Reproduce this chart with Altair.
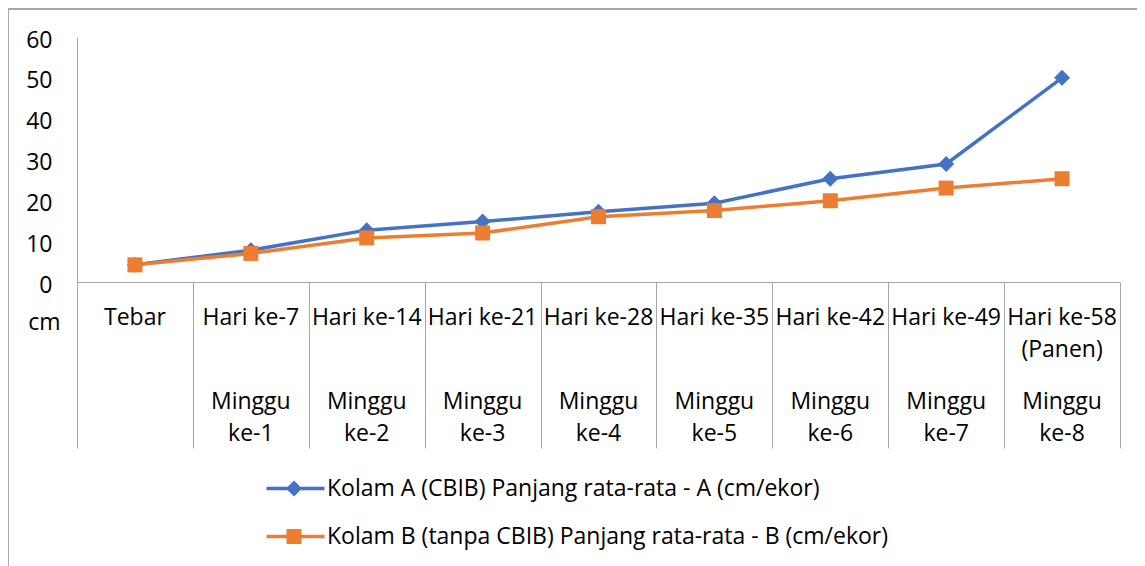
import json
import altair as alt
import pandas as pd

categories = ["Tebar", "Hari ke-7", "Hari ke-14", "Hari ke-21", "Hari ke-28",
              "Hari ke-35", "Hari ke-42", "Hari ke-49", "Hari ke-58\n(Panen)"]
weeks = ["", "Minggu\nke-1", "Minggu\nke-2", "Minggu\nke-3", "Minggu\nke-4",
         "Minggu\nke-5", "Minggu\nke-6", "Minggu\nke-7", "Minggu\nke-8"]
series_names = ["Kolam A (CBIB) Panjang rata-rata - A (cm/ekor)",
                "Kolam B (tanpa CBIB) Panjang rata-rata - B (cm/ekor)"]
kolam_a = [4.2, 7.8, 12.7, 14.8, 17.2, 19.3, 25.3, 28.9, 50.0]
kolam_b = [4.2, 7.0, 10.8, 12.0, 16.0, 17.5, 19.9, 23.0, 25.3]
y_ticks = [0, 10, 20, 30, 40, 50, 60]

colors = ["#4472C4", "#ED7D31"]
FONT = "Open Sans"
FS = 23
GRID = "#a6a6a6"

rows = []
for s, vals in zip(series_names, [kolam_a, kolam_b]):
    for c, v in zip(categories, vals):
        rows.append({"kategori": c, "seri": s, "nilai": v})
df = pd.DataFrame(rows)

week_map = "{" + ",".join(f"{json.dumps(c)}:{json.dumps(w)}" for c, w in zip(categories, weeks)) + "}"

x_scale = alt.Scale(type="band", domain=categories, paddingInner=0, paddingOuter=0)
y_scale = alt.Scale(domain=[0, 60])
color_scale = alt.Scale(domain=series_names, range=colors)

# legend symbols: line + marker
path_a = "M-4.8,-0.18H1V0.18H-4.8Z M-2.05,-0.8L-1.25,0L-2.05,0.8L-2.85,0Z"
path_b = "M-4.8,-0.18H1V0.18H-4.8Z M-2.8,-0.75H-1.3V0.75H-2.8Z"

lines = alt.Chart(df).mark_line(strokeWidth=3.5).encode(
    x=alt.X("kategori:N", scale=x_scale, sort=categories, bandPosition=0.5,
            axis=alt.Axis(orient="bottom", labels=False, title=None, domain=True,
                          domainColor=GRID, ticks=True, tickBand="extent",
                          tickSize=166, tickColor=GRID, tickWidth=1)),
    y=alt.Y("nilai:Q", scale=y_scale,
            axis=alt.Axis(values=y_ticks, title="cm", titleAngle=0, titleX=-33, titleY=285,
                          titleAlign="center", titleBaseline="middle", titleFont=FONT,
                          titleFontSize=FS, titleFontWeight="normal", titleColor="#000000",
                          labelFont=FONT, labelFontSize=FS, labelColor="#000000",
                          labelPadding=25, labelOffset=3, ticks=False, grid=False,
                          domain=True, domainColor=GRID)),
    color=alt.Color("seri:N", scale=color_scale, legend=None),
)

points = alt.Chart(df).mark_point(filled=True, opacity=1, strokeWidth=0).encode(
    x=alt.X("kategori:N", scale=x_scale, sort=categories, bandPosition=0.5,
            axis=alt.Axis(orient="bottom", domain=False, ticks=False, tickSize=0, title=None,
                          labelAngle=0, labelFont=FONT, labelFontSize=FS, labelColor="#000000",
                          labelBaseline="top", labelPadding=24, labelLineHeight=32,
                          labelExpr="split(datum.label, '\\n')", labelLimit=0)),
    y=alt.Y("nilai:Q", scale=y_scale, axis=None),
    color=alt.Color("seri:N", scale=color_scale, legend=None),
    shape=alt.Shape("seri:N", scale=alt.Scale(domain=series_names, range=["diamond", "square"]),
                    legend=None),
    size=alt.Size("seri:N", scale=alt.Scale(domain=series_names, range=[256, 225]), legend=None),
)

legend_layer = alt.Chart(df).transform_filter("false").mark_point(filled=True, opacity=1).encode(
    x=alt.X("kategori:N", scale=x_scale, sort=categories, bandPosition=0.5,
            axis=alt.Axis(orient="bottom", domain=False, ticks=False, tickSize=0, title=None,
                          labelAngle=0, labelFont=FONT, labelFontSize=FS, labelColor="#000000",
                          labelBaseline="top", labelPadding=108, labelLineHeight=32,
                          labelExpr=f"split({week_map}[datum.label], '\\n')", labelLimit=0)),
    y=alt.Y("nilai:Q", scale=y_scale, axis=None),
    color=alt.Color("seri:N", scale=color_scale,
                    legend=alt.Legend(orient="none", legendX=226, legendY=440, title=None,
                                      labelFont=FONT, labelFontSize=FS, labelColor="#000000",
                                      labelOffset=1, symbolSize=400, symbolStrokeWidth=0,
                                      rowPadding=24, padding=0, labelLimit=0,
                                      symbolOpacity=1)),
    shape=alt.Shape("seri:N", scale=alt.Scale(domain=series_names, range=[path_a, path_b])),
)

frame_left = alt.Chart(df).mark_rule(color=GRID, strokeWidth=1.5).encode(
    x=alt.value(-69.5), y=alt.value(-28.5), y2=alt.value(560)
)
frame_top = alt.Chart(df).mark_rule(color=GRID, strokeWidth=1.5).encode(
    x=alt.value(-69.5), x2=alt.value(1200), y=alt.value(-28.5)
)

chart = alt.layer(frame_left, frame_top, lines, points, legend_layer).resolve_scale(
    x="independent", y="independent", color="independent", shape="independent"
).properties(
    width=1043, height=245,
    padding={"left": 69, "top": 29, "right": 17, "bottom": 284},
    autosize=alt.AutoSizeParams(type="none"),
    background="white",
).configure_view(stroke=None)

chart.save("out.html", embed_options={"renderer": "svg", "actions": False})
